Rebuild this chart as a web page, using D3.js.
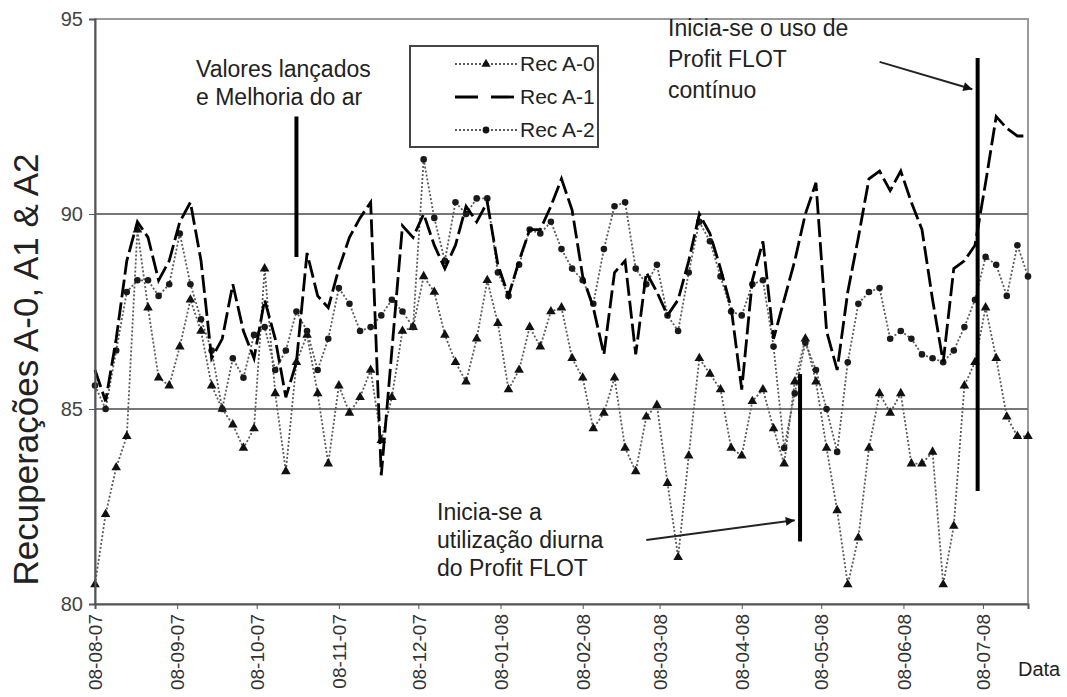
<!DOCTYPE html>
<html>
<head>
<meta charset="utf-8">
<script src="https://cdn.jsdelivr.net/npm/d3@7"></script>
<style>
	body { margin: 0; background: #fff; }
	text { font-family: Arial, 'Liberation Sans', sans-serif; }
</style>
</head>
<body>
<script>
/*
	data, one value every 4 days from 08-08-07
*/
const tickLabels = [ '08-08-07', '08-09-07', '08-10-07', '08-11-07', '08-12-07', '08-01-08',
	'08-02-08', '08-03-08', '08-04-08', '08-05-08', '08-06-08', '08-07-08' ];
const yTicks = [ 80, 85, 90, 95 ];
const seriesNames = [ 'Rec A-0', 'Rec A-1', 'Rec A-2' ];

const recA0 = [ 80.5, 82.3, 83.5, 84.3, 89.6, 87.6, 85.8, 85.6, 86.6, 87.8,
	87.0, 85.6, 85.0, 84.6, 84.0, 84.5, 88.6, 85.4, 83.4, 86.2,
	86.9, 85.4, 83.6, 85.6, 84.9, 85.3, 86.0, 84.2, 85.3, 87.0,
	87.1, 88.4, 88.0, 86.9, 86.2, 85.7, 86.8, 88.3, 87.2, 85.5,
	86.0, 87.1, 86.6, 87.5, 87.6, 86.3, 85.8, 84.5, 84.9, 85.8,
	84.0, 83.4, 84.8, 85.1, 83.1, 81.2, 83.8, 86.3, 85.9, 85.5,
	84.0, 83.8, 85.2, 85.5, 84.5, 83.6, 85.7, 86.8, 85.7, 84.0,
	82.4, 80.5, 81.7, 84.0, 85.4, 84.9, 85.4, 83.6, 83.6, 83.9,
	80.5, 82.0, 85.6, 86.2, 87.6, 86.3, 84.8, 84.3, 84.3 ];

const recA1 = [ 86.0, 85.2, 86.8, 88.8, 89.8, 89.4, 88.3, 88.8, 89.8, 90.3,
	88.8, 86.3, 86.8, 88.2, 87.0, 86.3, 87.8, 86.8, 85.3, 86.2,
	89.0, 87.9, 87.6, 88.6, 89.4, 89.9, 90.3, 83.3, 86.5, 89.7,
	89.4, 90.0, 89.2, 88.6, 89.2, 90.2, 89.8, 90.3, 88.7, 87.9,
	88.8, 89.6, 89.6, 90.2, 90.9, 90.1, 88.4, 87.6, 86.4, 88.5,
	88.8, 86.4, 88.5, 88.0, 87.4, 87.8, 88.8, 90.0, 89.5, 88.6,
	87.6, 85.5, 88.3, 89.3, 86.8, 87.8, 88.8, 90.0, 90.8, 87.0,
	86.0, 88.0, 89.4, 90.9, 91.1, 90.6, 91.1, 90.3, 89.6, 87.8,
	86.2, 88.6, 88.8, 89.2, 90.8, 92.5, 92.2, 92.0, 92.0 ];

const recA2 = [ 85.6, 85.0, 86.5, 88.0, 88.3, 88.3, 87.9, 88.2, 89.5, 88.2,
	87.3, 86.5, 85.0, 86.3, 85.8, 86.9, 87.1, 86.0, 86.5, 87.5,
	87.0, 86.0, 86.8, 88.1, 87.7, 87.0, 87.1, 87.4, 87.8, 87.5,
	87.1, 91.4, 89.9, 88.8, 90.3, 90.0, 90.4, 90.4, 88.5, 87.9,
	88.7, 89.6, 89.5, 89.8, 89.1, 88.6, 88.3, 87.7, 89.1, 90.2,
	90.3, 88.6, 88.2, 88.7, 87.4, 87.0, 88.5, 89.8, 89.3, 88.4,
	87.5, 87.4, 88.2, 88.3, 86.6, 84.0, 85.4, 86.7, 86.0, 85.0,
	83.9, 86.2, 87.7, 88.0, 88.1, 86.8, 87.0, 86.8, 86.4, 86.3,
	86.2, 86.5, 87.1, 87.8, 88.9, 88.7, 87.9, 89.2, 88.4 ];

const width = 1067;
const height = 697;
const margin = { top: 19, right: 39, bottom: 93, left: 95 };

const parseTick = d3.utcParse('%d-%m-%y');
const tickDates = tickLabels.map(parseTick);
const dates = d3.utcDay.range(Date.UTC(2007, 7, 8), Date.UTC(2008, 6, 26)).filter((d, i) => i % 4 === 0);

const x = d3.scaleUtc().domain([ dates[0], dates[dates.length - 1] ]).range([ margin.left, width - margin.right ]);
const y = d3.scaleLinear().domain([ 80, 95 ]).range([ height - margin.bottom, margin.top ]);

const svg = d3.select('body').append('svg').attr('width', width).attr('height', height);

svg.append('defs')
	.append('marker')
	.attr('id', 'arrow')
	.attr('viewBox', '0 0 10 10')
	.attr('refX', 10)
	.attr('refY', 5)
	.attr('markerUnits', 'userSpaceOnUse')
	.attr('markerWidth', 12)
	.attr('markerHeight', 9)
	.attr('orient', 'auto')
	.append('path')
	.attr('d', 'M0,0L10,5L0,10z')
	.attr('fill', '#111');

const gGrid = svg.append('g').attr('class', 'grid');
const gSeries = svg.append('g').attr('class', 'series');
const gNotes = svg.append('g').attr('class', 'notes');
const gAxes = svg.append('g').attr('class', 'axes');

/*
	frame and reference lines
*/
gGrid
	.append('rect')
	.attr('x', x.range()[0])
	.attr('y', y(95))
	.attr('width', x.range()[1] - x.range()[0])
	.attr('height', y(80) - y(95))
	.attr('fill', 'none')
	.attr('stroke', '#9a9a9a')
	.attr('stroke-width', 2);

gGrid
	.selectAll('line.ref')
	.data([ 85, 90 ])
	.join('line')
	.attr('class', 'ref')
	.attr('x1', x.range()[0])
	.attr('x2', x.range()[1])
	.attr('y1', (d) => y(d))
	.attr('y2', (d) => y(d))
	.attr('stroke', '#777')
	.attr('stroke-width', 2);

/*
	series
*/
const line = (vals) => d3.line().x((d, i) => x(dates[i])).y((d) => y(d))(vals);

const dotted = [ recA0, recA2 ];
gSeries
	.selectAll('path.dotted')
	.data(dotted)
	.join('path')
	.attr('class', 'dotted')
	.attr('d', (d) => line(d))
	.attr('fill', 'none')
	.attr('stroke', '#5a5a5a')
	.attr('stroke-width', 1.8)
	.attr('stroke-dasharray', '2,2');

gSeries
	.selectAll('path.tri')
	.data(recA0)
	.join('path')
	.attr('class', 'tri')
	.attr('d', d3.symbol(d3.symbolTriangle, 40))
	.attr('transform', (d, i) => `translate(${x(dates[i])},${y(d)})`)
	.attr('fill', '#111');

gSeries
	.selectAll('path.dot')
	.data(recA2)
	.join('path')
	.attr('class', 'dot')
	.attr('d', d3.symbol(d3.symbolCircle, 34))
	.attr('transform', (d, i) => `translate(${x(dates[i])},${y(d)})`)
	.attr('fill', '#1a1a1a');

gSeries
	.append('path')
	.attr('d', line(recA1))
	.attr('fill', 'none')
	.attr('stroke', '#000')
	.attr('stroke-width', 2.8)
	.attr('stroke-dasharray', '18,5');

/*
	legend
*/
const gLegend = svg.append('g').attr('class', 'legend');
gLegend
	.append('rect')
	.attr('x', 410)
	.attr('y', 46)
	.attr('width', 188)
	.attr('height', 101)
	.attr('fill', '#fff')
	.attr('stroke', '#444')
	.attr('stroke-width', 2);

const legendY = [ 64, 97, 130 ];
seriesNames.forEach((name, i) => {
	const ly = legendY[i];
	const seg = gLegend.append('line').attr('x1', 455).attr('x2', 518).attr('y1', ly).attr('y2', ly);
	if (i === 1) {
		seg.attr('stroke', '#000').attr('stroke-width', 2.8).attr('stroke-dasharray', '23,13');
	} else {
		seg.attr('stroke', '#5a5a5a').attr('stroke-width', 1.8).attr('stroke-dasharray', '2,2');
		gLegend
			.append('path')
			.attr('d', d3.symbol(i === 0 ? d3.symbolTriangle : d3.symbolCircle, 36))
			.attr('transform', `translate(486,${ly})`)
			.attr('fill', '#111');
	}
	gLegend
		.append('text')
		.attr('x', 520)
		.attr('y', ly)
		.attr('dy', '0.35em')
		.style('font-size', '21px')
		.attr('fill', '#222')
		.text(name);
});

/*
	annotations
*/
const marks = [
	{ date: Date.UTC(2007, 9, 23), from: 92.5, to: 88.9 },
	{ date: Date.UTC(2008, 3, 30), from: 85.9, to: 81.6 },
	{ date: Date.UTC(2008, 6, 6), from: 94.0, to: 82.9 }
];
gNotes
	.selectAll('line.mark')
	.data(marks)
	.join('line')
	.attr('class', 'mark')
	.attr('x1', (d) => x(d.date))
	.attr('x2', (d) => x(d.date))
	.attr('y1', (d) => y(d.from))
	.attr('y2', (d) => y(d.to))
	.attr('stroke', '#000')
	.attr('stroke-width', 4);

const arrows = [
	{ x1: Date.UTC(2008, 2, 3), y1: 81.64, x2: Date.UTC(2008, 3, 28), y2: 82.15 },
	{ x1: Date.UTC(2008, 4, 30), y1: 93.9, x2: Date.UTC(2008, 6, 4), y2: 93.2 }
];
gNotes
	.selectAll('line.arrow')
	.data(arrows)
	.join('line')
	.attr('class', 'arrow')
	.attr('x1', (d) => x(d.x1))
	.attr('x2', (d) => x(d.x2))
	.attr('y1', (d) => y(d.y1))
	.attr('y2', (d) => y(d.y2))
	.attr('stroke', '#222')
	.attr('stroke-width', 2)
	.attr('marker-end', 'url(#arrow)');

const notes = [
	{ x: 196, y: 77, step: 28, lines: [ 'Valores lançados', 'e Melhoria do ar' ] },
	{ x: 437, y: 520, step: 28, lines: [ 'Inicia-se a', 'utilização diurna', 'do Profit FLOT' ] },
	{ x: 668, y: 36, step: 31, lines: [ 'Inicia-se o uso de', 'Profit FLOT', 'contínuo' ] }
];
notes.forEach((note) => {
	const t = gNotes.append('text').attr('x', note.x).attr('y', note.y).style('font-size', '23px').attr('fill', '#222');
	note.lines.forEach((l, i) => {
		t.append('tspan').attr('x', note.x).attr('dy', i ? note.step : 0).text(l);
	});
});

/*
	axes
*/
const yAxis = gAxes
	.append('g')
	.attr('transform', `translate(${margin.left},0)`)
	.call(d3.axisLeft(y).tickValues(yTicks).tickSize(6).tickPadding(6));
yAxis.select('.domain').attr('stroke', '#555').attr('stroke-width', 2);
yAxis.selectAll('.tick line').attr('stroke', '#555');
yAxis.selectAll('.tick text').style('font-size', '20px').attr('fill', '#444');

const xAxis = gAxes
	.append('g')
	.attr('transform', `translate(0,${height - margin.bottom})`)
	.call(d3.axisBottom(x).tickValues(tickDates).tickSize(5).tickFormat((d, i) => tickLabels[i]));
xAxis.select('.domain').attr('stroke', '#555').attr('stroke-width', 2);
xAxis.selectAll('.tick line').attr('stroke', '#555');
xAxis
	.selectAll('.tick text')
	.style('font-size', '19px')
	.attr('fill', '#333')
	.attr('text-anchor', 'end')
	.attr('transform', 'rotate(-90)')
	.attr('x', -10)
	.attr('y', 0)
	.attr('dy', '0.35em');

gAxes
	.append('text')
	.attr('transform', `translate(38,${(y(80) + y(95)) / 2 + 58}) rotate(-90)`)
	.attr('text-anchor', 'middle')
	.style('font-size', '35px')
	.attr('fill', '#222')
	.text('Recuperações A-0, A1 & A2');

gAxes
	.append('text')
	.attr('x', 1018)
	.attr('y', 676)
	.style('font-size', '20px')
	.attr('fill', '#222')
	.text('Data');
</script>
</body>
</html>
